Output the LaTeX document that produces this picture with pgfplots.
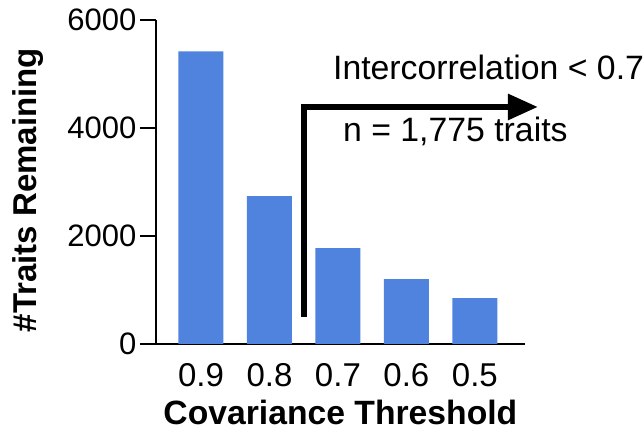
\documentclass[border=0pt]{standalone}
\usepackage{fontspec}
\setmainfont{Liberation Sans}
\usepackage{pgfplots}
\pgfplotsset{compat=1.18}
\usetikzlibrary{arrows.meta}
\definecolor{barblue}{RGB}{80,131,222}

\begin{document}
\begin{tikzpicture}
\begin{axis}[
    scale only axis,
    width=369pt, height=324pt,
    xmin=-0.657, xmax=4.73,
    ymin=0, ymax=6000,
    axis lines=left,
    axis line style={-, line width=1.6pt},
    clip=false,
    xtick={0,1,2,3,4},
    xticklabels={0.9,0.8,0.7,0.6,0.5},
    ytick={0,2000,4000,6000},
    xtick style={draw=none},
    ytick style={line width=1.6pt, black},
    tick align=outside,
    major tick length=16pt,
    scaled ticks=false,
    /pgf/number format/1000 sep={},
    /pgf/number format/assume math mode=true,
    xticklabel style={font=\fontsize{33}{35}\selectfont},
    yticklabel style={font=\fontsize{31}{33}\selectfont},
    xlabel={Covariance Threshold},
    xlabel style={font=\bfseries\fontsize{33.7}{36}\selectfont,
      at={(axis description cs:0.5,-0.25)}, anchor=base},
    ylabel={\#Traits Remaining},
    ylabel style={font=\bfseries\fontsize{33}{35}\selectfont,
      at={(axis description cs:-0.325,0.475)}, anchor=base},
  ]
  \addplot[ybar, bar width=0.657, fill=barblue, draw=none]
    coordinates {(0,5420) (1,2740) (2,1775) (3,1200) (4,850)};

  % annotation arrow
  \draw[line width=6pt, -{Triangle[length=30pt,width=25pt]}]
    (axis cs:1.504,500) -- (axis cs:1.504,4389) -- (axis cs:4.92,4389);
  \node[anchor=base west, inner sep=0, font=\fontsize{33.8}{36}\selectfont]
    at (axis cs:1.927,4889) {Intercorrelation < 0.7};
  \node[anchor=base west, inner sep=0, font=\fontsize{33.8}{36}\selectfont]
    at (axis cs:2.073,3741) {n = 1,775 traits};
\end{axis}
\path[use as bounding box] (-156pt,-88pt) rectangle (488pt,344pt);
\end{tikzpicture}
\end{document}
